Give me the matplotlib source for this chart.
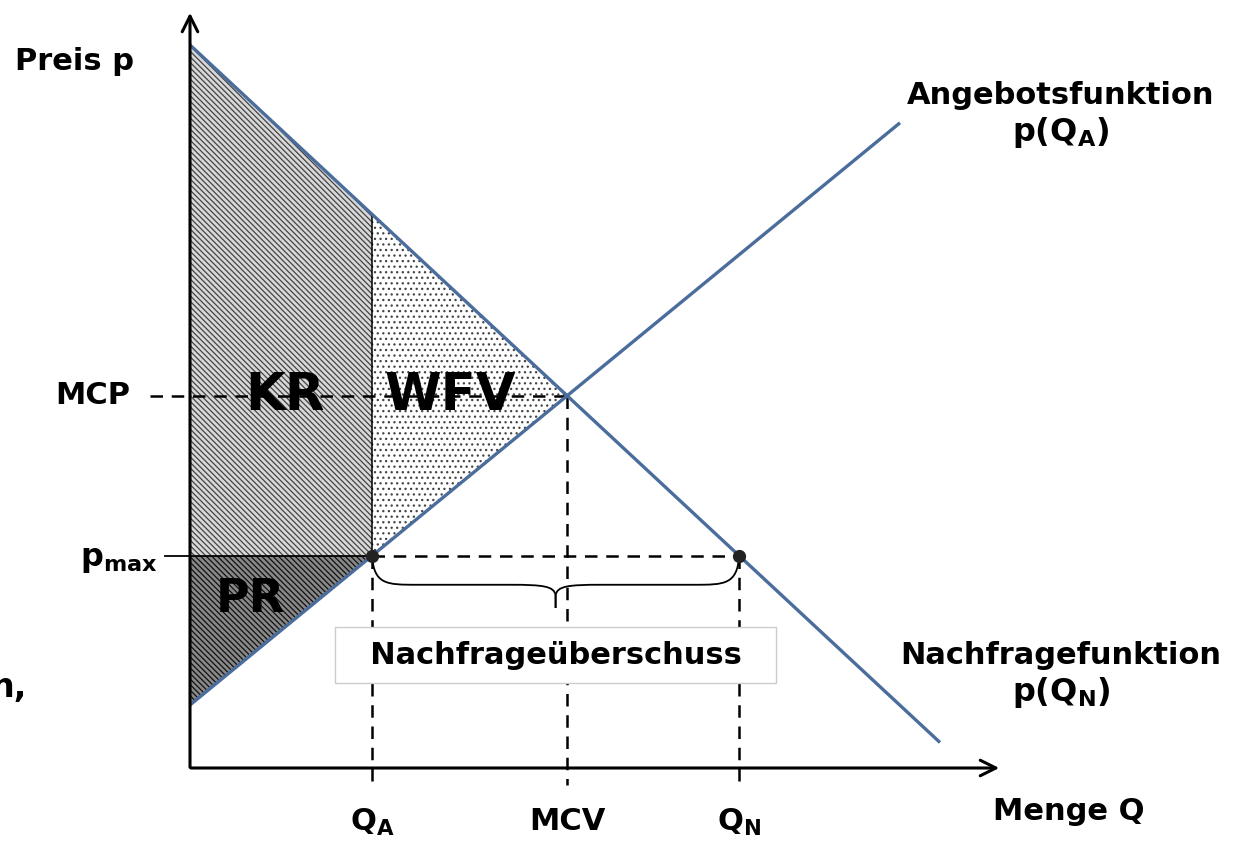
import numpy as np
import matplotlib.pyplot as plt
from matplotlib.path import Path
from matplotlib.patches import PathPatch, Polygon

# Modell: lineare Nachfrage- und Angebotsfunktion
demand_intercept = 7.23   # p(0) Nachfrage
demand_slope = 0.93
supply_intercept = 0.63   # p(0) Angebot
supply_slope = 0.82
q_a = 1.82                # angebotene Menge bei Hoechstpreis
demand_end = 7.5
supply_end = 7.1

area_labels = ["KR", "WFV", "PR"]
q_labels = [r"$\mathbf{Q_A}$", "MCV", r"$\mathbf{Q_N}$"]

def demand(q):
    return demand_intercept - demand_slope * q

def supply(q):
    return supply_intercept + supply_slope * q

mcv = (demand_intercept - supply_intercept) / (demand_slope + supply_slope)
mcp = demand(mcv)
p_max = supply(q_a)
q_n = (demand_intercept - p_max) / demand_slope

plt.rcParams['font.family'] = ['DejaVu Sans']
plt.rcParams['mathtext.fontset'] = 'dejavusans'
plt.rcParams['hatch.linewidth'] = 0.9

fig = plt.figure(figsize=(12.57, 8.42), dpi=100)
ax = fig.add_axes([0, 0, 1, 1])
ax.set_xlim(-1.90, 10.67)
ax.set_ylim(-0.74, 7.68)
ax.axis('off')

blue = '#4a6d9c'

# Flaechen
kr = Polygon([(0, p_max), (0, demand(0)), (q_a, demand(q_a)), (q_a, p_max)],
             closed=True, facecolor='#d8d8d8', edgecolor='#444444', hatch='\\\\\\\\\\\\', lw=0)
ax.add_patch(kr)
pr = Polygon([(0, supply(0)), (0, p_max), (q_a, p_max)],
             closed=True, facecolor='#888888', edgecolor='#111111', hatch='\\\\\\\\\\\\', lw=0)
ax.add_patch(pr)
wfv = Polygon([(q_a, p_max), (q_a, demand(q_a)), (mcv, mcp)],
              closed=True, facecolor='white', edgecolor='#444444', hatch='...', lw=0)
ax.add_patch(wfv)

# Begrenzungen
ax.plot([q_a, q_a], [p_max, demand(q_a)], color='black', lw=1.1)
ax.plot([-0.25, q_a], [p_max, p_max], color='black', lw=1.3)

dash = (0, (5, 3.5))
ax.plot([-0.4, mcv], [mcp, mcp], color='black', lw=1.8, ls=dash)
ax.plot([q_a, q_n], [p_max, p_max], color='black', lw=1.8, ls=dash)
for q, top in [(q_a, p_max), (mcv, mcp), (q_n, p_max)]:
    ax.plot([q, q], [top, -0.17], color='black', lw=1.8, ls=dash)

# Kurven
qd = np.array([0, demand_end])
qs = np.array([0, supply_end])
ax.plot(qd, demand(qd), color=blue, lw=2.4, solid_capstyle='butt')
ax.plot(qs, supply(qs), color=blue, lw=2.4, solid_capstyle='butt')

ax.plot([q_a, q_n], [p_max, p_max], 'o', color='#222222', ms=8.5)

# Achsen
arrow = dict(arrowstyle='->', lw=2.2, color='black', mutation_scale=28)
ax.annotate('', xy=(0, 7.58), xytext=(0, -0.02), arrowprops=arrow)
ax.annotate('', xy=(8.12, 0), xytext=(-0.02, 0), arrowprops=arrow)

# geschweifte Klammer
xm = (q_a + q_n) / 2
y0 = p_max
d = 0.29
verts = [(q_a, y0), (q_a + 0.02, y0 - d), (q_a + 0.15, y0 - d), (q_a + 0.45, y0 - d),
         (xm - 0.45, y0 - d), (xm - 0.12, y0 - d), (xm - 0.02, y0 - d * 1.05),
         (xm, y0 - d * 1.35), (xm, y0 - d * 1.8)]
verts_r = [(2 * xm - x, y) for x, y in verts[::-1]]
path_l = Path(verts, [Path.MOVETO, Path.CURVE4, Path.CURVE4, Path.CURVE4,
                      Path.LINETO, Path.CURVE4, Path.CURVE4, Path.CURVE4, Path.LINETO])
path_r = Path(verts_r, [Path.MOVETO, Path.LINETO, Path.CURVE4, Path.CURVE4, Path.CURVE4,
                        Path.LINETO, Path.CURVE4, Path.CURVE4, Path.CURVE4])
ax.add_patch(PathPatch(path_l, fc='none', ec='black', lw=1.3))
ax.add_patch(PathPatch(path_r, fc='none', ec='black', lw=1.3))

# Texte
bold = dict(fontweight='bold', color='black')
ax.text(xm, 1.13, "  Nachfrageüberschuss  ", ha='center', va='center', fontsize=22, **bold,
        bbox=dict(boxstyle='square,pad=0.45', fc='white', ec='#cccccc', lw=1))
ax.text(0.95, mcp, area_labels[0], ha='center', va='center', fontsize=37, **bold)
ax.text(2.6, mcp, area_labels[1], ha='center', va='center', fontsize=37, **bold)
ax.text(0.6, 1.68, area_labels[2], ha='center', va='center', fontsize=33, **bold)

ax.text(-1.75, 7.06, "Preis p", ha='left', va='center', fontsize=22, **bold)
ax.text(-1.35, mcp, "MCP", ha='left', va='center', fontsize=22, **bold)
ax.text(-1.1, p_max - 0.04, r"$\mathbf{p_{max}}$", ha='left', va='center', fontsize=23, **bold)
ax.text(-1.63, 0.8, "n,", ha='right', va='center', fontsize=24, **bold)

ax.text(8.71, 6.73, "Angebotsfunktion", ha='center', va='center', fontsize=22, **bold)
ax.text(8.71, 6.36, r"$\mathbf{p(Q_A)}$", ha='center', va='center', fontsize=23, **bold)
ax.text(8.71, 1.13, "Nachfragefunktion", ha='center', va='center', fontsize=22, **bold)
ax.text(8.71, 0.75, r"$\mathbf{p(Q_N)}$", ha='center', va='center', fontsize=23, **bold)
ax.text(8.79, -0.44, "Menge Q", ha='center', va='center', fontsize=22, **bold)

for q, lab in zip([q_a, mcv, q_n], q_labels):
    ax.text(q, -0.54, lab, ha='center', va='center', fontsize=22, **bold)

fig.savefig('out.png', dpi=100)
